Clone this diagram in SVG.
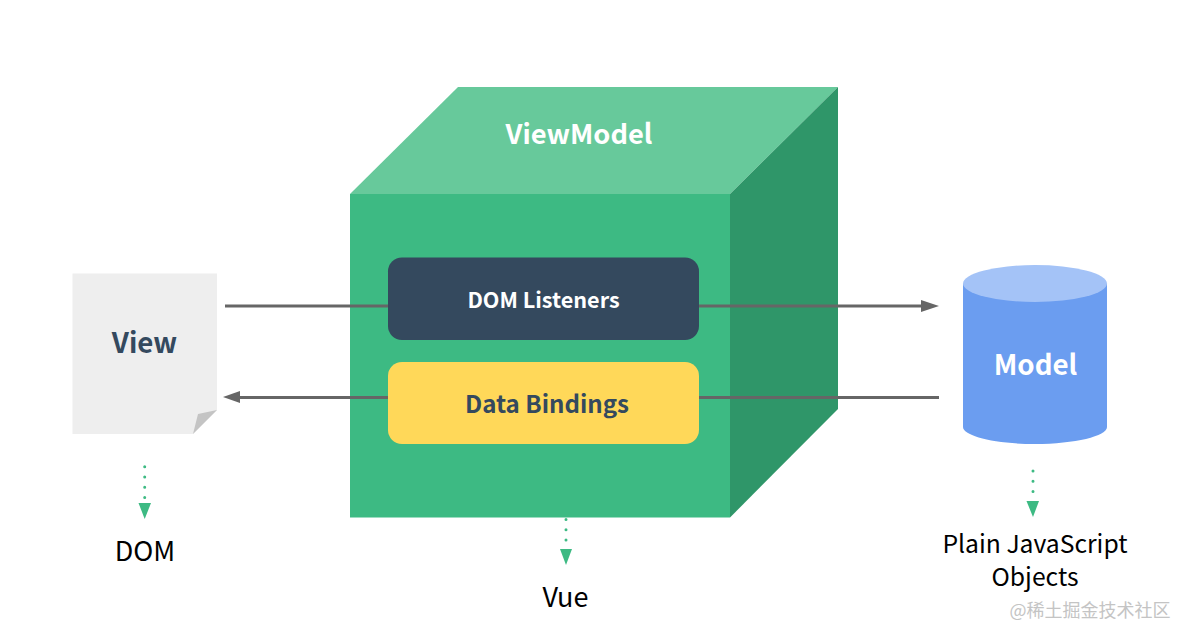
<svg xmlns="http://www.w3.org/2000/svg" width="1190" height="639" viewBox="0 0 1190 639">
<style>
text{font-family:"Noto Sans CJK SC","Noto Sans",sans-serif;text-anchor:middle}
.b{font-weight:700}
.lbl{font-size:27px;fill:#000}
.obj{font-size:24.700px;fill:#000}
.flow{stroke:#666;stroke-width:3;fill:none}
.dot{stroke:#3dba83;stroke-width:3;stroke-linecap:round;stroke-dasharray:0 10.300;fill:none}
.tip{fill:#3dba83}
.gtip{fill:#666}
</style>
<rect width="1190" height="639" fill="#fff"/>
<g id="vue-cube">
<polygon points="350,194 458,87 838,87 730,194" fill="#67c99b"/>
<polygon points="730,194 838,87 838,409 730,517.500" fill="#2f9669"/>
<rect x="350" y="194" width="380" height="323.500" fill="#3dba83"/>
<text class="b" x="579" y="144" font-size="27.300" fill="#fff">ViewModel</text>
</g>
<g id="connectors">
<path class="flow" d="M225 306H388M698 306H924"/>
<polygon class="gtip" points="939,306 921,300 921,312"/>
<path class="flow" d="M939 397.500H698M388 397.500H238"/>
<polygon class="gtip" points="223,397 240,391 240,403"/>
<path class="dot" d="M144.700 466.700V498"/>
<polygon class="tip" points="138.500,503 151,503 144.700,519"/>
<path class="dot" d="M1033 471V493"/>
<polygon class="tip" points="1026.500,501 1039,501 1033,517"/>
<path class="dot" d="M566 519.500V541"/>
<polygon class="tip" points="560,549 572,549 566,565"/>
</g>
<g id="dom-listeners">
<rect x="388" y="257.500" width="311" height="82.500" rx="14" fill="#34495e"/>
<text class="b" x="543.500" y="308" font-size="21.600" fill="#fff">DOM Listeners</text>
</g>
<g id="data-bindings">
<rect x="388" y="362" width="311" height="82" rx="14" fill="#ffd859"/>
<text class="b" x="547" y="412.500" font-size="24.100" fill="#34495e">Data Bindings</text>
</g>
<g id="view">
<polygon points="72.500,273.500 217,273.500 217,410 193,434 72.500,434" fill="#eee"/>
<path d="M217 410L198 414L193 434Z" fill="#c4c4c4"/>
<text class="b" x="144.500" y="353" font-size="27.700" fill="#34495e">View</text>
</g>
<g id="model">
<path d="M963 284V427C963 436 995 444 1035 444S1107 436 1107 427V284Z" fill="#6b9df0"/>
<ellipse cx="1035" cy="283.500" rx="72" ry="18.500" fill="#a4c3f7"/>
<text class="b" x="1035.500" y="375" font-size="27.700" fill="#fff">Model</text>
</g>
<g id="labels">
<text class="lbl" x="145" y="561">DOM</text>
<text class="lbl" x="565.500" y="607">Vue</text>
<text class="obj" x="1035" y="553">Plain JavaScript</text>
<text class="obj" x="1035" y="586">Objects</text>
<text x="1090" y="616.500" font-size="18" fill="#c4c4c4">@稀土掘金技术社区</text>
</g>
</svg>
